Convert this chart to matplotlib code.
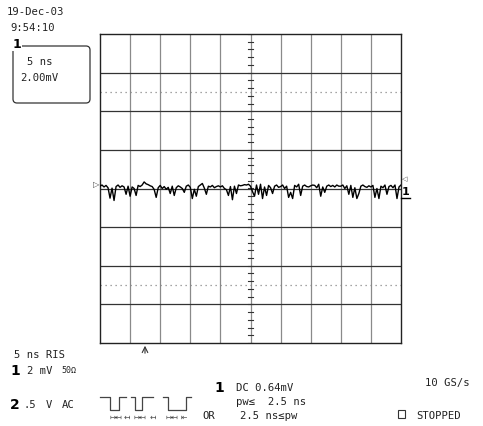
import matplotlib
matplotlib.use("Agg")
import matplotlib.pyplot as plt
from matplotlib.patches import FancyBboxPatch
import numpy as np

W, H = 483, 427

# ---- scope settings / data ----
time_per_div_ns = 5
mv_per_div = 2
n_hdiv = 10
n_vdiv = 8
dotted_levels_mv = [-5, 5]

# channel 1 trace (mV), 15 samples per division
trace_mv = [
    0.12, 0.18, 0.08, 0.16, 0.04, -0.50, 0.02, -0.62, 0.10, 0.18, 0.06, 0.14, 0.08, -0.30, 0.12,
    -0.40, 0.08, 0.00, -0.36, 0.16, 0.10, 0.18, 0.34, 0.24, 0.20, 0.14, 0.10, -0.05, -0.46, 0.04,
    0.16, 0.00, 0.10, -0.04, 0.06, -0.26, 0.12, -0.36, 0.04, 0.14, 0.08, 0.00, -0.20, 0.12, 0.18,
    0.06, -0.52, -0.04, -0.40, 0.10, 0.18, 0.26, 0.02, -0.30, 0.12, 0.08, 0.16, 0.04, 0.10, 0.14,
    0.08, 0.14, 0.00, -0.06, -0.36, 0.10, -0.58, 0.12, -0.26, 0.18, 0.14, 0.16, 0.20, 0.18, 0.22,
    0.12, -0.16, -0.40, 0.18, -0.30, 0.22, -0.52, 0.08, -0.36, 0.16, 0.04, -0.26, 0.12, 0.18, 0.06,
    0.10, 0.18, 0.00, 0.12, -0.46, -0.20, -0.52, 0.16, 0.08, 0.22, -0.36, 0.12, 0.18, 0.10, 0.08,
    0.14, 0.18, 0.16, 0.04, 0.22, -0.40, 0.08, -0.20, 0.12, 0.18, 0.10, 0.16, 0.08, 0.18, 0.12,
    0.12, 0.18, 0.00, 0.14, -0.30, 0.16, -0.46, 0.04, -0.52, -0.26, 0.12, 0.18, 0.10, 0.06, 0.14,
    0.08, 0.16, -0.46, 0.00, -0.52, 0.12, 0.04, 0.18, -0.30, 0.10, 0.16, 0.04, 0.18, -0.52, 0.08,
    0.18,
]

date_text = "19-Dec-03"
time_text = "9:54:10"
zoom_box_lines = ["5 ns", "2.00mV"]
timebase_text = "5 ns RIS"
ch1_text = ["2 mV", "50\u03a9"]
ch2_text = [".5", "V", "AC"]
trig_lines = ["DC 0.64mV", "pw\u2264  2.5 ns", "2.5 ns\u2264pw"]
rate_text = "10 GS/s"
status_text = "STOPPED"

MONO = "DejaVu Sans Mono"
FS = 7.6

fig = plt.figure(figsize=(W / 100, H / 100), dpi=100)
fig.patch.set_facecolor("white")

# ---- graticule axes ----
L, R, T, B = 100, 401, 35, 344
ax = fig.add_axes([L / W, (H - B) / H, (R - L) / W, (B - T) / H])
xmax = n_hdiv * time_per_div_ns
ymax = n_vdiv / 2 * mv_per_div
ax.set_xlim(0, xmax)
ax.set_ylim(-ymax, ymax)
ax.set_xticks([])
ax.set_yticks([])
for s in ax.spines.values():
    s.set_color("#222222")
    s.set_linewidth(1.0)

for x in np.arange(time_per_div_ns, xmax, time_per_div_ns):
    ax.axvline(x, color="#8a8a8a", lw=0.9, zorder=1)
for y in np.arange(-ymax + mv_per_div, ymax, mv_per_div):
    ax.axhline(y, color="#333333", lw=0.9, zorder=1)
for y in dotted_levels_mv:
    ax.axhline(y, color="#888888", lw=0.9, ls=(0, (1, 3)), zorder=1)

# centre-axis minor ticks
cx = xmax / 2
for y in np.arange(-ymax, ymax + 1e-9, mv_per_div / 5):
    ax.plot([cx - 0.45, cx + 0.45], [y, y], color="#333333", lw=0.8, zorder=2)

t = np.linspace(0, xmax, len(trace_mv))
ax.plot(t, trace_mv, color="black", lw=1.0, zorder=3)

# ---- overlay in pixel coordinates ----
ov = fig.add_axes([0, 0, 1, 1])
ov.set_xlim(0, W)
ov.set_ylim(H, 0)
ov.axis("off")
ov.patch.set_alpha(0)


def txt(x, y, s, size=FS, weight="normal", **kw):
    ov.text(x, y, s, fontsize=size, family=MONO, fontweight=weight,
            ha=kw.pop("ha", "left"), va="center", color="#222222", **kw)


txt(7, 12, date_text)
txt(10, 28, time_text)

box = FancyBboxPatch((13, 47), 77, 57, boxstyle="round,pad=0,rounding_size=4",
                     fc="none", ec="#333333", lw=0.9)
ov.add_patch(box)
ov.text(17, 45, "1", fontsize=9, family="DejaVu Sans", fontweight="bold",
        ha="center", va="center", color="black",
        bbox=dict(fc="white", ec="none", pad=0.3))
txt(27, 62, zoom_box_lines[0])
txt(20, 78, zoom_box_lines[1])

txt(14, 355, timebase_text)
ov.text(15, 371, "1", fontsize=10, family="DejaVu Sans", fontweight="bold",
        ha="center", va="center", color="black")
txt(27, 371, ch1_text[0])
txt(61, 371, ch1_text[1], size=6)
ov.text(15, 405, "2", fontsize=10, family="DejaVu Sans", fontweight="bold",
        ha="center", va="center", color="black")
txt(23, 405, ch2_text[0])
txt(46, 405, ch2_text[1])
txt(62, 405, ch2_text[2])

# pulse-width icons
icons = [
    [(100, 398), (110, 398), (110, 411), (119, 411), (119, 398), (126, 398)],
    [(131, 398), (135, 398), (135, 411), (142, 411), (142, 398), (153, 398)],
    [(163, 398), (168, 398), (168, 411), (186, 411), (186, 398), (191, 398)],
]
for pts in icons:
    xs, ys = zip(*pts)
    ov.plot(xs, ys, color="#444444", lw=0.9)
for x0, s in [(109, "\u21a6\u21a4"), (124, "\u21a4"), (134, "\u21a6\u21a4"), (150, "\u21a4"),
              (166, "\u21a6\u21a4"), (181, "\u21e4")]:
    ov.text(x0, 417, s, fontsize=5.5, family="DejaVu Sans", ha="left", va="center", color="#444444")

ov.text(219, 388, "1", fontsize=10, family="DejaVu Sans", fontweight="bold",
        ha="center", va="center", color="black")
txt(236, 388, trig_lines[0])
txt(236, 402, trig_lines[1])
txt(202, 416, "OR")
txt(240, 416, trig_lines[2])

txt(425, 383, rate_text)
ov.add_patch(plt.Rectangle((398, 411), 7, 8, fc="none", ec="#333333", lw=0.8))
txt(416, 416, status_text)

# time reference arrow
ov.annotate("", xy=(145, 344), xytext=(145, 357),
            arrowprops=dict(arrowstyle="->", lw=0.8, color="#333333"))

# trace level markers
ov.text(96, 185, "\u25b7", fontsize=6, family="DejaVu Sans", ha="center", va="center", color="#444444")
ov.text(405, 179, "\u25c1", fontsize=5, family="DejaVu Sans", ha="center", va="center", color="#444444")
ov.text(406, 192, "1", fontsize=8, family="DejaVu Sans", fontweight="bold",
        ha="center", va="center", color="black")
ov.plot([401, 410], [199, 199], color="black", lw=1.0)

fig.savefig("out.png", dpi=100, facecolor="white")
